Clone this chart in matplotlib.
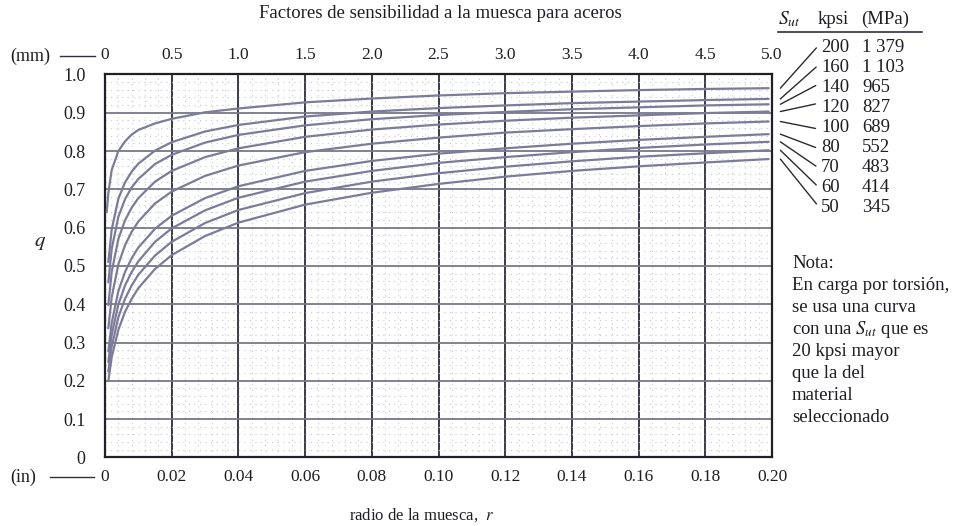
import matplotlib
matplotlib.use("Agg")
import matplotlib.pyplot as plt
from matplotlib.lines import Line2D
from matplotlib.ticker import MultipleLocator, FixedLocator

plt.rcParams['font.family'] = ['Liberation Serif', 'DejaVu Serif']
plt.rcParams['mathtext.fontset'] = 'stix'

# ---- data ----
r_in = [0.001, 0.002, 0.004, 0.006, 0.008, 0.010, 0.015, 0.020, 0.030, 0.040,
        0.060, 0.080, 0.100, 0.120, 0.140, 0.160, 0.180, 0.199]
r_200 = [0.0005, 0.001, 0.002, 0.004, 0.006, 0.008, 0.010, 0.015, 0.020, 0.030, 0.040,
         0.060, 0.080, 0.100, 0.120, 0.140, 0.160, 0.180, 0.199]

q_200 = [0.64, 0.69, 0.75, 0.80, 0.825, 0.843, 0.855, 0.872, 0.884, 0.901, 0.911,
         0.927, 0.937, 0.945, 0.951, 0.955, 0.959, 0.962, 0.964]
q_160 = [0.51, 0.595, 0.675, 0.718, 0.746, 0.767, 0.801, 0.823, 0.851, 0.868,
         0.890, 0.903, 0.912, 0.919, 0.925, 0.929, 0.933, 0.936]
q_140 = [0.457, 0.544, 0.628, 0.674, 0.705, 0.727, 0.766, 0.790, 0.822, 0.842,
         0.867, 0.883, 0.894, 0.902, 0.909, 0.914, 0.919, 0.922]
q_120 = [0.398, 0.484, 0.570, 0.619, 0.652, 0.677, 0.720, 0.748, 0.784, 0.807,
         0.837, 0.856, 0.869, 0.879, 0.887, 0.893, 0.899, 0.903]
q_100 = [0.337, 0.418, 0.504, 0.554, 0.589, 0.616, 0.663, 0.694, 0.735, 0.762,
         0.797, 0.819, 0.835, 0.848, 0.857, 0.865, 0.872, 0.877]
q_80 = [0.277, 0.351, 0.434, 0.484, 0.520, 0.548, 0.597, 0.631, 0.677, 0.708,
        0.748, 0.774, 0.793, 0.807, 0.819, 0.829, 0.837, 0.844]
q_70 = [0.249, 0.320, 0.399, 0.449, 0.484, 0.512, 0.563, 0.598, 0.645, 0.678,
        0.720, 0.748, 0.769, 0.784, 0.797, 0.808, 0.817, 0.824]
q_60 = [0.224, 0.289, 0.366, 0.414, 0.449, 0.477, 0.527, 0.563, 0.612, 0.646,
        0.690, 0.720, 0.742, 0.759, 0.773, 0.785, 0.794, 0.802]
q_50 = [0.200, 0.261, 0.333, 0.380, 0.414, 0.442, 0.492, 0.528, 0.578, 0.613,
        0.660, 0.691, 0.714, 0.733, 0.748, 0.760, 0.770, 0.779]

sut_kpsi = ["200", "160", "140", "120", "100", "80", "70", "60", "50"]
sut_mpa = ["1 379", "1 103", "965", "827", "689", "552", "483", "414", "345"]

x_ticks_in = [0, 0.02, 0.04, 0.06, 0.08, 0.10, 0.12, 0.14, 0.16, 0.18, 0.20]
x_labels_in = ["0", "0.02", "0.04", "0.06", "0.08", "0.10", "0.12", "0.14", "0.16", "0.18", "0.20"]
x_labels_mm = ["0", "0.5", "1.0", "1.5", "2.0", "2.5", "3.0", "3.5", "4.0", "4.5", "5.0"]
y_ticks = [0, 0.1, 0.2, 0.3, 0.4, 0.5, 0.6, 0.7, 0.8, 0.9, 1.0]
y_labels = ["0", "0.1", "0.2", "0.3", "0.4", "0.5", "0.6", "0.7", "0.8", "0.9", "1.0"]

nota_lines = ["Nota:", "En carga por torsión,", "se usa una curva",
              r"con una $S_{ut}$ que es", "20 kpsi mayor", "que la del",
              "material", "seleccionado"]

# ---- figure ----
W, H = 954, 526
fig = plt.figure(figsize=(W / 100, H / 100), dpi=100)

def fx(px):
    return px / W

def fy(py):
    return 1 - py / H

ax = fig.add_axes([fx(105), fy(457.4), fx(772) - fx(105), fy(74.4) - fy(457.4)])
ax.set_xlim(0, 0.20)
ax.set_ylim(0, 1.0)

curve_color = '#7c7c9a'
grid_dark = '#3a3a48'
text_color = '#1e1e24'

# minor dotted grid
ax.xaxis.set_minor_locator(MultipleLocator(0.004))
ax.yaxis.set_minor_locator(MultipleLocator(0.02))
ax.grid(which='minor', color='#c6c6d2', linestyle=(0, (1, 4)), linewidth=0.8)
ax.xaxis.set_major_locator(FixedLocator(x_ticks_in))
ax.yaxis.set_major_locator(FixedLocator(y_ticks))
ax.grid(which='major', axis='x', color=grid_dark, linewidth=1.4)
ax.grid(which='major', axis='y', color='#77778a', linewidth=1.3)
ax.set_axisbelow(True)

for s in ax.spines.values():
    s.set_color('#202028')
    s.set_linewidth(1.6)

ax.set_xticklabels(x_labels_in, fontsize=12.5, color=text_color)
ax.set_yticklabels(y_labels, fontsize=13, color=text_color)
ax.tick_params(which='both', length=0)
ax.tick_params(axis='x', pad=8)
ax.tick_params(axis='y', pad=14)

# top mm axis (aligned with the grid as drawn in the chart)
sec = ax.secondary_xaxis('top', functions=(lambda r: r * 25.0, lambda m: m / 25.0))
sec.set_xticks([float(v) for v in x_labels_mm])
sec.set_xticklabels(x_labels_mm, fontsize=12.5, color=text_color)
sec.tick_params(length=0, pad=8)
sec.spines['top'].set_visible(False)

# curves
series = [(r_200, q_200), (r_in, q_160), (r_in, q_140), (r_in, q_120), (r_in, q_100),
          (r_in, q_80), (r_in, q_70), (r_in, q_60), (r_in, q_50)]
for rr, qq in series:
    ax.plot(rr, qq, color=curve_color, linewidth=1.6, solid_capstyle='round',
            solid_joinstyle='round', zorder=3)

# leader lines + labels
row_y0 = 47
row_dy = 20
for i, (rr, qq) in enumerate(series):
    ly = row_y0 + i * row_dy
    ax.annotate(sut_kpsi[i], xy=(0.2025, qq[-1]), xycoords='data',
                xytext=(fx(821), fy(ly)), textcoords='figure fraction',
                fontsize=13.5, color=text_color, va='center', ha='left',
                arrowprops=dict(arrowstyle='-', color='#2a2a34', lw=1.0,
                                shrinkA=2, shrinkB=0, relpos=(0, 0.75 if i < 4 else 0.35)),
                annotation_clip=False)
    fig.text(fx(862), fy(ly), sut_mpa[i], fontsize=13.5, color=text_color, va='center', ha='left')

# legend header
fig.text(fx(778), fy(19), r"$S_{ut}$", fontsize=14, color=text_color, va='center', ha='left')
fig.text(fx(818), fy(19), "kpsi", fontsize=13.5, color=text_color, va='center', ha='left')
fig.text(fx(861), fy(19), "(MPa)", fontsize=13.5, color=text_color, va='center', ha='left')
fig.add_artist(Line2D([fx(778), fx(922)], [fy(32), fy(32)], transform=fig.transFigure,
                      color='#303038', linewidth=1.2))

# note
for i, line in enumerate(nota_lines):
    fig.text(fx(792), fy(264 + i * 22), line, fontsize=13.5, color=text_color, va='center', ha='left')

# title and labels
fig.text(fx(440), fy(14), "Factores de sensibilidad a la muesca para aceros",
         fontsize=13.5, color=text_color, ha='center', va='center')
fig.text(fx(422), fy(515), r"radio de la muesca,  $r$", fontsize=12, color=text_color,
         ha='center', va='center')
fig.text(fx(40), fy(243), r"$q$", fontsize=15, color=text_color, ha='center', va='center')

# unit markers
fig.text(fx(10), fy(56), "(mm)", fontsize=13, color=text_color, ha='left', va='center')
fig.add_artist(Line2D([fx(60), fx(95)], [fy(56), fy(56)], transform=fig.transFigure,
                      color='#303038', linewidth=1.0))
fig.text(fx(10), fy(477), "(in)", fontsize=13, color=text_color, ha='left', va='center')
fig.add_artist(Line2D([fx(50), fx(94)], [fy(477), fy(477)], transform=fig.transFigure,
                      color='#303038', linewidth=1.0))

fig.savefig("out.png", dpi=100, facecolor='white')
